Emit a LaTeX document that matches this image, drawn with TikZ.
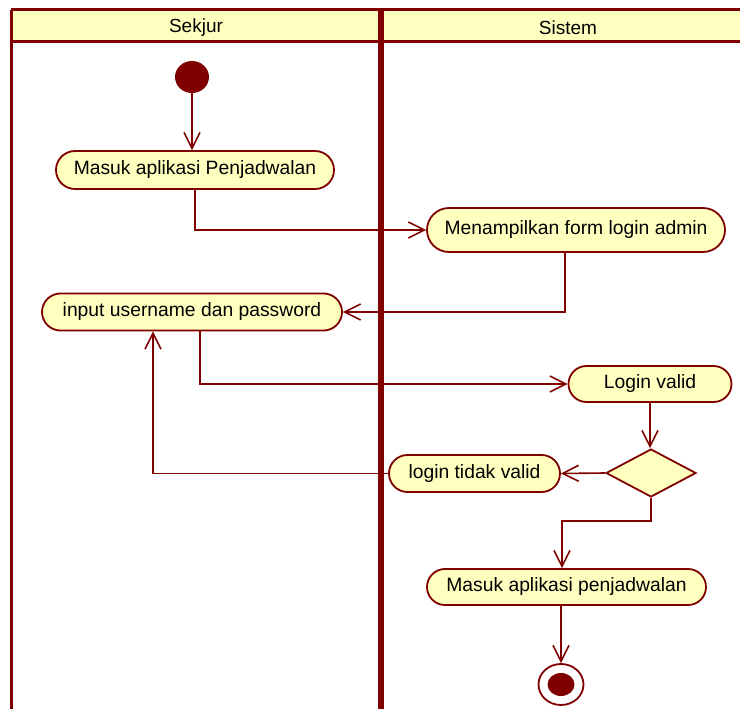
\documentclass[tikz,border=0pt]{standalone}
\usepackage{fontspec}
\setmainfont{Liberation Sans}
\usetikzlibrary{shapes.geometric,shapes.misc,arrows.meta}
\definecolor{umlred}{RGB}{128,0,0}
\definecolor{umlfill}{RGB}{255,255,192}
\begin{document}
\begin{tikzpicture}[x=1pt,y=-1pt,
  act/.style={rounded rectangle,draw=umlred,fill=umlfill,line width=1.8pt,inner sep=0pt,
    font=\fontsize{19.3}{23}\selectfont,text=black},
  decision/.style={diamond,draw=umlred,fill=umlfill,line width=1.8pt,inner sep=0pt,
    minimum width=90pt,minimum height=48pt},
  conn/.style={draw=umlred,line width=1.6pt,-{Straight Barb[length=16pt,width=16pt,line width=1.6pt]}},
  lane/.style={draw=umlred,line width=3pt},
  hdr/.style={font=\fontsize{19}{23}\selectfont,text=black}]
\useasboundingbox (0,0) rectangle (740,709);
% swimlanes
\fill[umlfill] (11,10) rectangle (745,42);
\draw[lane] (11,10) -- (745,10);
\draw[lane] (11,42) -- (745,42);
\draw[lane] (11,10) -- (11,712);
\draw[draw=umlred,line width=6pt] (380.5,8.5) -- (380.5,712);
\node[hdr] (h1) at (196,28) {Sekjur};
\node[hdr] (h2) at (568,28) {Sistem};
% nodes
\node[ellipse,fill=umlred,minimum width=34pt,minimum height=32pt,inner sep=0pt] (s) at (192,77) {};
\node[act,minimum width=278pt,minimum height=38pt] (n1) at (195,170) {Masuk aplikasi Penjadwalan};
\node[act,minimum width=298pt,minimum height=44pt] (n2) at (576,230) {Menampilkan form login admin};
\node[act,minimum width=300pt,minimum height=37pt] (n3) at (192,312) {input username dan password};
\node[act,minimum width=163pt,minimum height=36pt] (n4) at (650,384) {Login valid};
\node[decision] (d) at (651,473) {};
\node[act,minimum width=171pt,minimum height=37pt] (n5) at (474.5,473.5) {login tidak valid};
\node[act,minimum width=279pt,minimum height=36pt] (n6) at (566.5,587) {Masuk aplikasi penjadwalan};
\node[ellipse,draw=umlred,fill=white,line width=1.8pt,minimum width=45pt,minimum height=41pt,inner sep=0pt] (e) at (561,684.5) {};
\node[ellipse,fill=umlred,minimum width=27pt,minimum height=23pt,inner sep=0pt] (ei) at (561,684.5) {};
% connectors
\coordinate (c1) at (651,521);
\draw[conn] (s) -- (s |- n1.north);
\draw[conn] (n1.south) |- (n2.west);
\draw[conn] ([xshift=-11pt]n2.south) |- (n3.east);
\draw[conn] ([xshift=8pt]n3.south) |- (n4.west);
\draw[conn] (n4.south) -- (n4.south |- d.north);
\draw[conn] (d.west) -- (n5.east);
\draw[conn] (n5.west) -| ([xshift=-39pt]n3.south);
\draw[conn] (d.south) -- (c1) -| ([xshift=-4.5pt]n6.north);
\draw[conn] (n6.south -| e) -- (e.north);
\end{tikzpicture}
\end{document}
